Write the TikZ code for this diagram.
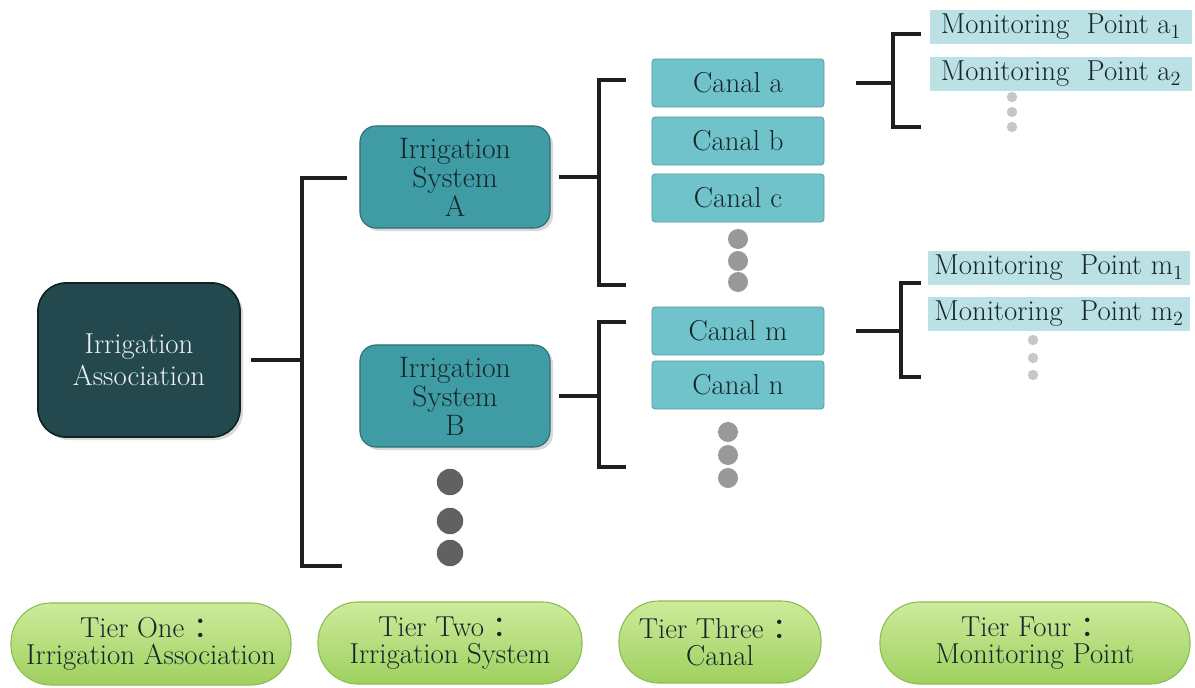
\documentclass[tikz,border=0pt]{standalone}
\usepackage{fontspec}
\newfontfamily\cjk{Noto Sans CJK SC}
\usetikzlibrary{shadows}

\definecolor{assocfill}{HTML}{23494F}
\definecolor{assocline}{HTML}{0F2326}
\definecolor{sysfill}{HTML}{3F9BA4}
\definecolor{sysline}{HTML}{2F6E74}
\definecolor{canalfill}{HTML}{70C3CB}
\definecolor{canalline}{HTML}{5A9EA5}
\definecolor{monfill}{HTML}{BCE1E5}
\definecolor{tiertop}{HTML}{CDEB9C}
\definecolor{tierbot}{HTML}{9FD05E}
\definecolor{tierline}{HTML}{8DBE55}
\definecolor{textdark}{HTML}{14262A}

\begin{document}
\begin{tikzpicture}[x=0.025cm,y=-0.025cm,
  bar/.style={line width=3pt, black!88},
  assocbox/.style={draw=assocline, line width=1.2pt, fill=assocfill, rounded corners=0.7cm,
    minimum width=5.05cm, minimum height=3.85cm, align=center, text=white!88!gray,
    font=\fontsize{20.5}{23}\selectfont, drop shadow={opacity=0.3}},
  sysbox/.style={draw=sysline, line width=0.8pt, fill=sysfill, rounded corners=0.4cm,
    minimum width=4.75cm, minimum height=2.55cm, align=center, text=textdark,
    font=\fontsize{21}{20.6}\selectfont, drop shadow={opacity=0.3}},
  canalbox/.style={draw=canalline, line width=0.6pt, fill=canalfill, rounded corners=0.08cm,
    minimum width=4.3cm, minimum height=1.2cm, text=textdark, font=\fontsize{20.5}{22}\selectfont},
  monbox/.style={fill=monfill, minimum width=6.55cm, minimum height=0.83cm, inner sep=0pt,
    text=textdark, font=\fontsize{20.5}{22}\selectfont},
  tierpill/.style={draw=tierline, line width=0.8pt, top color=tiertop, bottom color=tierbot,
    rounded corners=1cm, minimum height=2.05cm, align=center, text=textdark,
    font=\fontsize{20.5}{19}\selectfont},
  bigdot/.style={fill=black!62},
  middot/.style={fill=black!40},
  smalldot/.style={fill=black!22}]
\useasboundingbox (0,0) rectangle (1195,688);

% tier one
\node[assocbox] (assoc) at (139,360) {Irrigation\\Association};

% tier two
\node[sysbox] (sysA) at (455,177) {Irrigation\\System\\A};
\node[sysbox] (sysB) at (455,396) {Irrigation\\System\\B};
\fill[bigdot] (450,482) circle[radius=0.33cm];
\fill[bigdot] (450,521) circle[radius=0.33cm];
\fill[bigdot] (450,553) circle[radius=0.33cm];

% tier three
\node[canalbox] (canA) at (738,83) {Canal a};
\node[canalbox] (canB) at (738,141) {Canal b};
\node[canalbox] (canC) at (738,198) {Canal c};
\fill[middot] (738,239) circle[radius=0.25cm];
\fill[middot] (738,261) circle[radius=0.25cm];
\fill[middot] (738,282) circle[radius=0.25cm];
\node[canalbox] (canM) at (738,331) {Canal m};
\node[canalbox] (canN) at (738,385) {Canal n};
\fill[middot] (728,432) circle[radius=0.25cm];
\fill[middot] (728,455) circle[radius=0.25cm];
\fill[middot] (728,478) circle[radius=0.25cm];

% tier four
\node[monbox] (monA1) at (1061,27) {Monitoring~~Point a\textsubscript{1}};
\node[monbox] (monA2) at (1061,74) {Monitoring~~Point a\textsubscript{2}};
\fill[smalldot] (1012,97) circle[radius=0.13cm];
\fill[smalldot] (1012,112) circle[radius=0.13cm];
\fill[smalldot] (1012,127) circle[radius=0.13cm];
\node[monbox] (monM1) at (1059,268) {Monitoring~~Point m\textsubscript{1}};
\node[monbox] (monM2) at (1059,314) {Monitoring~~Point m\textsubscript{2}};
\fill[smalldot] (1033,340) circle[radius=0.13cm];
\fill[smalldot] (1033,358) circle[radius=0.13cm];
\fill[smalldot] (1033,375) circle[radius=0.13cm];

% brackets
\coordinate (spA1) at (302,178);
\coordinate (spA2) at (302,566);
\draw[bar] (spA1) ++(45,0) -- (spA1) -- (spA2) -- ++(40,0);
\draw[bar, shorten <=0.25cm] (assoc.east) -- (assoc.east -| spA1);

\coordinate (spB1) at (599,80);
\coordinate (spB2) at (599,285);
\draw[bar] (spB1) ++(27,0) -- (spB1) -- (spB2) -- ++(27,0);
\draw[bar, shorten <=0.2cm] (sysA.east) -- (sysA.east -| spB1);

\coordinate (spC1) at (599,322);
\coordinate (spC2) at (599,467);
\draw[bar] (spC1) ++(27,0) -- (spC1) -- (spC2) -- ++(27,0);
\draw[bar, shorten <=0.2cm] (sysB.east) -- (sysB.east -| spC1);

\coordinate (spD1) at (893,34);
\coordinate (spD2) at (893,127);
\draw[bar] (spD1) ++(28,0) -- (spD1) -- (spD2) -- ++(28,0);
\draw[bar, shorten <=0.8cm] (canA.east) -- (canA.east -| spD1);

\coordinate (spE1) at (901,283);
\coordinate (spE2) at (901,377);
\draw[bar] (spE1) ++(20,0) -- (spE1) -- (spE2) -- ++(20,0);
\draw[bar, shorten <=0.8cm] (canM.east) -- (canM.east -| spE1);

% tier labels
\node[tierpill, minimum width=7cm] (tierOne) at (151,644) {Tier One {\cjk ：}\\Irrigation Association};
\node[tierpill, minimum width=6.6cm] (tierTwo) at (450,643) {Tier Two {\cjk ：}\\Irrigation System};
\node[tierpill, minimum width=5.05cm] (tierThree) at (720,642) {Tier Three {\cjk ：}\\Canal};
\node[tierpill, minimum width=7.75cm] (tierFour) at (1035,643) {Tier Four {\cjk ：}\\Monitoring Point};
\end{tikzpicture}
\end{document}
